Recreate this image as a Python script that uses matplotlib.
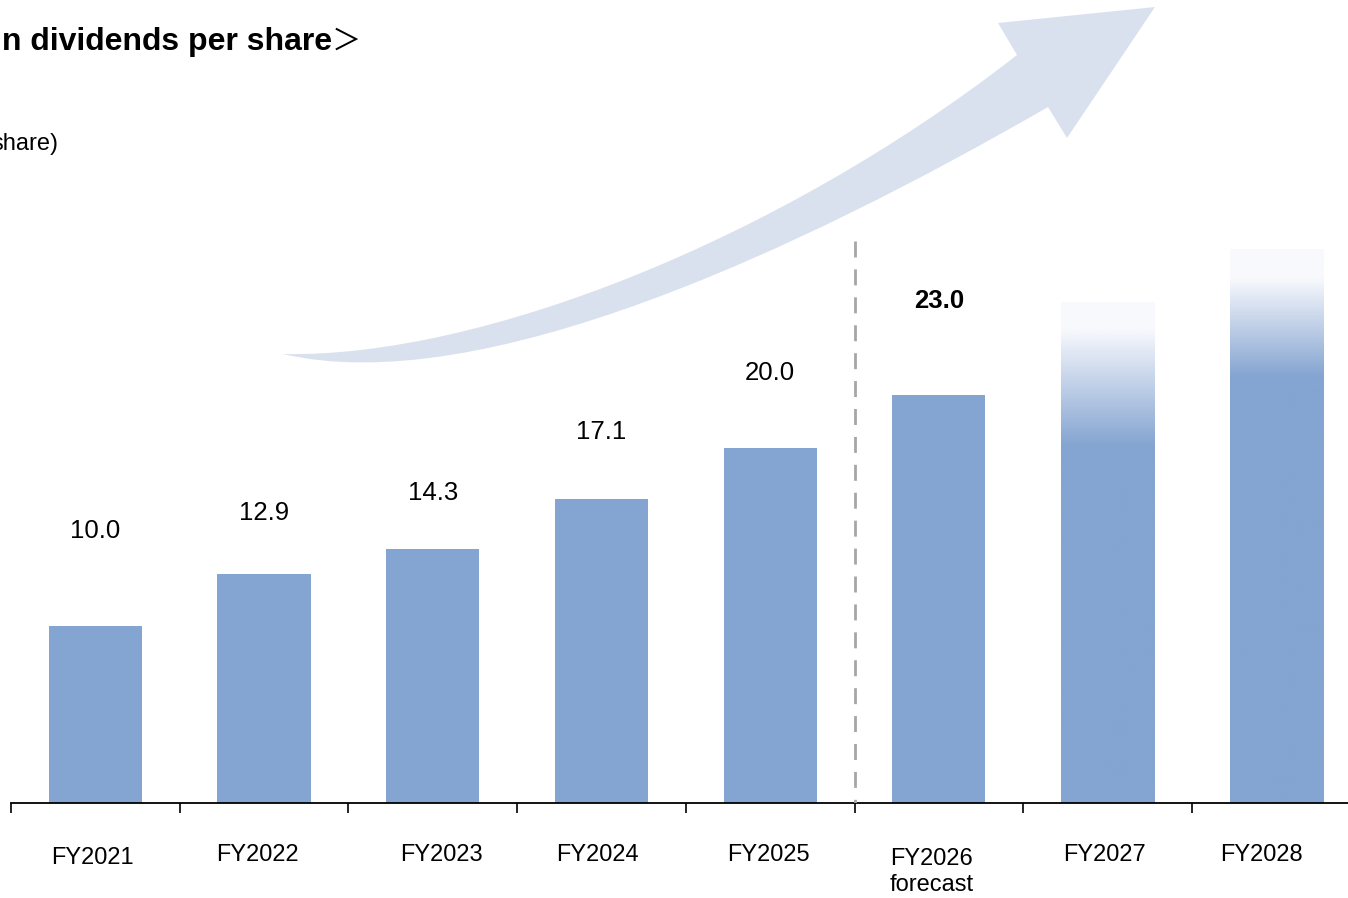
"""Dividends per share bar chart with forecast and outlook bars."""
import numpy as np
import matplotlib
matplotlib.use("Agg")
import matplotlib.pyplot as plt
from matplotlib.path import Path
from matplotlib.patches import PathPatch
from matplotlib.colors import LinearSegmentedColormap

plt.rcParams["font.family"] = ["Liberation Sans", "Noto Sans CJK JP", "DejaVu Sans"]
plt.rcParams["lines.scale_dashes"] = False

# data
years = ["FY2021", "FY2022", "FY2023", "FY2024", "FY2025", "FY2026\nforecast", "FY2027", "FY2028"]
dividends = [10.0, 12.9, 14.3, 17.1, 20.0, 23.0]     # yen per share, labelled bars
outlook = [28.2, 31.2]                                 # unlabelled outlook bars (visual height)

BLUE = "#84a4d1"
LIGHT = "#f8f9fd"
ARROW = "#dae1ee"
W, H = 1348, 898
PX_PER_YEN = 17.75
BASE_PX = 803   # baseline row in the picture

# layout tweaks (pixels)
value_lift = [94, 61, 56, 67, 75, 94]
tick_dx = [-3, -7, 9, -4, -2, -7, -3, -15]
tick_dy = [55, 52, 52, 52, 52, 69, 52, 52]
fade = [(0.713, 0.948), (0.770, 0.949)]

fig = plt.figure(figsize=(W / 100, H / 100), dpi=100)
ax = fig.add_axes([11 / W, (H - BASE_PX) / H, (W - 11) / W, BASE_PX / H])

heights = dividends + outlook
x = np.arange(len(years))
bars = ax.bar(x, heights, width=0.553, color=BLUE, linewidth=0, zorder=2)

# fading tops on the outlook bars
fade_cmap = LinearSegmentedColormap.from_list("fade", [LIGHT, BLUE])
rel = np.linspace(0, 1, 400)
for bar, (lo, hi) in zip(bars[len(dividends):], fade):
    bar.set_facecolor("none")
    strength = np.clip((hi - rel) / (hi - lo), 0, 1)
    x0, w, h = bar.get_x(), bar.get_width(), bar.get_height()
    im = ax.imshow(strength[:, None], extent=(x0, x0 + w, 0, h), origin="lower",
                   aspect="auto", cmap=fade_cmap, vmin=0, vmax=1,
                   interpolation="bilinear", zorder=2)
    im.set_clip_path(bar)

# value labels
for i, v in enumerate(dividends):
    bold = i == len(dividends) - 1
    ax.annotate(f"{v:.1f}", xy=(i, v), xytext=(0, value_lift[i]), textcoords="offset pixels",
                ha="center", va="center", fontsize=18.5,
                fontweight="bold" if bold else "normal", zorder=5)

# category labels
for i, lab in enumerate(years):
    ax.annotate(lab, xy=(i, 0), xytext=(tick_dx[i], -tick_dy[i]), textcoords="offset pixels",
                ha="center", va="center", fontsize=17, linespacing=1.25,
                annotation_clip=False)

# forecast divider
ax.plot([4.5, 4.5], [(BASE_PX - 241) / PX_PER_YEN, 0], color="#a6a6a6", lw=2,
        dashes=(11.5, 8.6), zorder=3)

ax.set_xlim(-0.5, -0.5 + (W - 11) / 168.7)
ax.set_ylim(0, BASE_PX / PX_PER_YEN)
ax.set_xticks(np.arange(-0.5, len(years) - 0.5, 1))
ax.set_xticklabels([])
ax.set_yticks([])
ax.tick_params(axis="x", direction="out", length=7, width=1.2, color="black")
for s in ("top", "right", "left"):
    ax.spines[s].set_visible(False)
ax.spines["bottom"].set_linewidth(1.3)
ax.patch.set_alpha(0)

# sweeping growth arrow (figure pixel coords, y down)
pts = [
    (283, 354),
    (480, 358), (780, 240), (1017, 55),
    (998, 23), (1155, 7), (1067, 138), (1048, 107),
    (800, 250), (480, 400), (283, 354),
    (283, 354),
]
codes = ([Path.MOVETO] + [Path.CURVE4] * 3 + [Path.LINETO] * 4
         + [Path.CURVE4] * 3 + [Path.CLOSEPOLY])
verts = [(px / W, 1 - py / H) for px, py in pts]
fig.patches.append(PathPatch(Path(verts, codes), facecolor=ARROW, edgecolor="none",
                             transform=fig.transFigure, figure=fig, zorder=0.5))

# clipped title and unit
fig.text(2 / W, 1 - 50 / H, "n dividends per share", fontsize=23, fontweight="bold",
         ha="left", va="baseline")
fig.text(346 / W, 1 - 50 / H, "\uff1e", fontsize=21, ha="center", va="baseline",
         family=["Noto Sans CJK JP", "DejaVu Sans"])
fig.text(58 / W, 1 - 150 / H, "share)", fontsize=17, ha="right", va="baseline")

fig.savefig("out.png", dpi=100, facecolor="white")
